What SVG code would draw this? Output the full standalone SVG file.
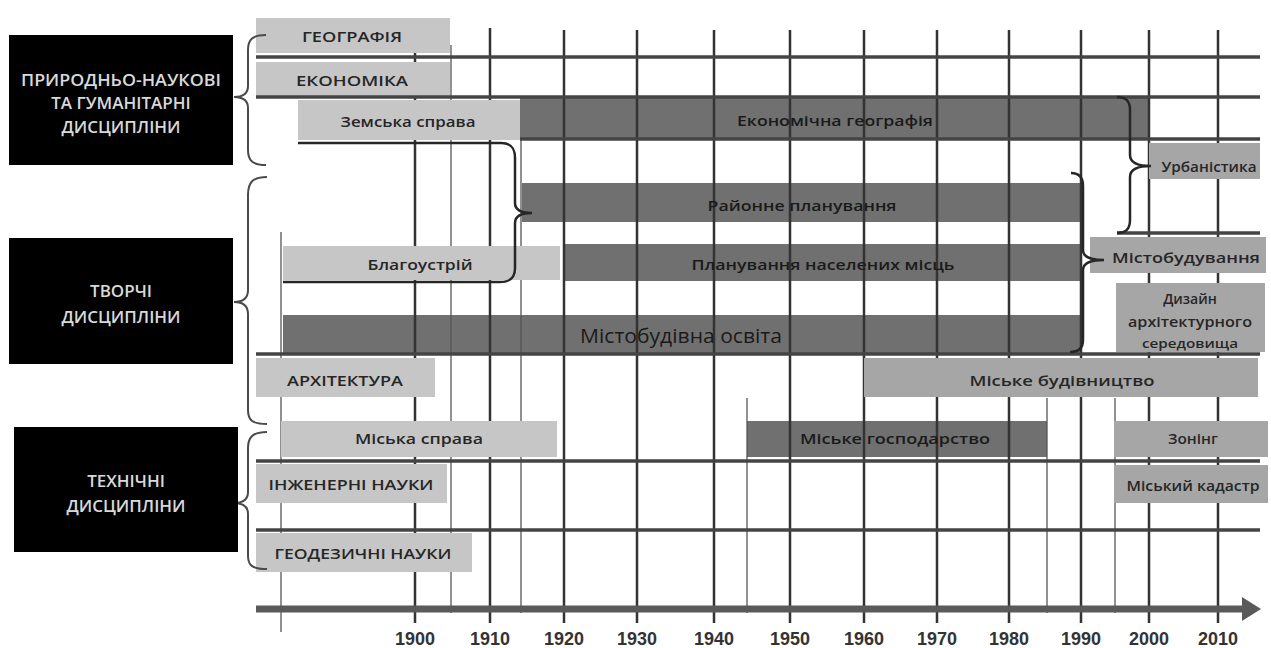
<svg xmlns="http://www.w3.org/2000/svg" width="1271" height="648" viewBox="0 0 1271 648">
<style>
.bg{fill:#ffffff}
.cat rect{fill:#000000}
.cat text{fill:#d9d9d9;font-family:"Open Sans","Noto Sans",sans-serif;font-weight:600;font-size:17px;text-anchor:middle;dominant-baseline:central}
.lt rect{fill:#c6c6c6}
.md rect{fill:#a6a6a6}
.dk rect{fill:#707070}
.bar text{fill:#262626;font-family:"Open Sans","Noto Sans",sans-serif;font-weight:600;font-size:15px;text-anchor:middle;dominant-baseline:central}
.dk text{fill:#1a1a1a}
.vd{stroke:#333333;stroke-width:2.5}
.vt{stroke:#555555;stroke-width:1.3}
.hl{stroke:#444444;stroke-width:3.5}
.br{fill:none;stroke:#4a4a4a;stroke-width:2}
.brd{fill:none;stroke:#262626;stroke-width:2.5}
.yr{fill:#333333;font-family:"Liberation Sans",Arial,sans-serif;font-weight:bold;font-size:19px;text-anchor:middle}
</style>
<rect class="bg" x="0" y="0" width="1271" height="648"/>

<!-- dark bars (grid lines visible across them) -->
<g id="ekon-geografiya" class="bar dk"><rect x="520" y="97" width="629" height="42"/></g>
<g id="rayonne-planuvannya" class="bar dk"><rect x="522" y="183" width="559" height="39"/></g>
<g id="planuvannya-naselenykh" class="bar dk"><rect x="563" y="244" width="518" height="37"/></g>
<g id="mistobud-osvita" class="bar dk"><rect x="283" y="315" width="798" height="38"/></g>
<g id="miske-hospodarstvo" class="bar dk"><rect x="747" y="421" width="300" height="36"/></g>

<g id="connectors">
  <g id="grid-decades">
    <line class="vd" x1="415" y1="30" x2="415" y2="623"/>
    <line class="vd" x1="490" y1="28" x2="490" y2="623"/>
    <line class="vd" x1="564" y1="30" x2="564" y2="623"/>
    <line class="vd" x1="637" y1="30" x2="637" y2="623"/>
    <line class="vd" x1="714" y1="30" x2="714" y2="623"/>
    <line class="vd" x1="790" y1="30" x2="790" y2="623"/>
    <line class="vd" x1="864" y1="30" x2="864" y2="623"/>
    <line class="vd" x1="937" y1="30" x2="937" y2="623"/>
    <line class="vd" x1="1009" y1="30" x2="1009" y2="623"/>
    <line class="vd" x1="1081" y1="30" x2="1081" y2="623"/>
    <line class="vd" x1="1149" y1="30" x2="1149" y2="623"/>
    <line class="vd" x1="1218" y1="30" x2="1218" y2="623"/>
  </g>
  <g id="grid-thin">
    <line class="vt" x1="281" y1="232" x2="281" y2="632"/>
    <line class="vt" x1="451" y1="45" x2="451" y2="613"/>
    <line class="vt" x1="521" y1="139" x2="521" y2="613"/>
    <line class="vt" x1="747" y1="398" x2="747" y2="613"/>
    <line class="vt" x1="1047" y1="398" x2="1047" y2="613"/>
    <line class="vt" x1="1115" y1="398" x2="1115" y2="613"/>
  </g>
</g>

<!-- light and medium bars (opaque over grid) -->
<g id="geografiya" class="bar lt"><rect x="256" y="18" width="194" height="35"/><text x="352" y="36" textLength="100" lengthAdjust="spacingAndGlyphs">ГЕОГРАФІЯ</text></g>
<g id="ekonomika" class="bar lt"><rect x="256" y="62" width="194" height="35"/><text x="352" y="80" textLength="112" lengthAdjust="spacingAndGlyphs">ЕКОНОМІКА</text></g>
<g id="zemska-sprava" class="bar lt"><rect x="298" y="100" width="222" height="40"/><text x="408" y="121" textLength="135" lengthAdjust="spacingAndGlyphs">Земська справа</text></g>
<g id="blahoustriy" class="bar lt"><rect x="283" y="246" width="277" height="34"/><text x="420" y="264" textLength="105" lengthAdjust="spacingAndGlyphs">Благоустрій</text></g>
<g id="arkhitektura" class="bar lt"><rect x="256" y="358" width="179" height="39"/><text x="345" y="380" textLength="116" lengthAdjust="spacingAndGlyphs">АРХІТЕКТУРА</text></g>
<g id="miska-sprava" class="bar lt"><rect x="281" y="421" width="276" height="36"/><text x="419" y="438" textLength="128" lengthAdjust="spacingAndGlyphs">Міська справа</text></g>
<g id="inzhenerni-nauky" class="bar lt"><rect x="256" y="464" width="191" height="39"/><text x="351" y="484" textLength="165" lengthAdjust="spacingAndGlyphs">ІНЖЕНЕРНІ НАУКИ</text></g>
<g id="heodezychni-nauky" class="bar lt"><rect x="256" y="533" width="216" height="39"/><text x="363" y="553" textLength="177" lengthAdjust="spacingAndGlyphs">ГЕОДЕЗИЧНІ НАУКИ</text></g>

<g id="urbanistyka" class="bar md"><rect x="1149" y="143" width="111" height="36"/><text x="1209" y="166" textLength="95" lengthAdjust="spacingAndGlyphs" style="font-size:14px">Урбаністика</text></g>
<g id="mistobuduvannya" class="bar md"><rect x="1090" y="237" width="176" height="36"/><text x="1186" y="257" textLength="148" lengthAdjust="spacingAndGlyphs">Містобудування</text></g>
<g id="dyzayn" class="bar md"><rect x="1116" y="283" width="149" height="69"/>
  <text x="1190" y="298" style="font-size:14px">Дизайн</text>
  <text x="1190" y="321" textLength="124" lengthAdjust="spacingAndGlyphs" style="font-size:14px">архітектурного</text>
  <text x="1190" y="343" textLength="96" lengthAdjust="spacingAndGlyphs" style="font-size:12px">середовища</text></g>
<g id="miske-budivnytstvo" class="bar md"><rect x="864" y="358" width="394" height="39"/><text x="1062" y="380" textLength="185" lengthAdjust="spacingAndGlyphs">Міське будівництво</text></g>
<g id="zoning" class="bar md"><rect x="1114" y="421" width="154" height="36"/><text x="1193" y="438" textLength="50" lengthAdjust="spacingAndGlyphs" style="font-size:14px">Зонінг</text></g>
<g id="miskyi-kadastr" class="bar md"><rect x="1114" y="465" width="154" height="38"/><text x="1193" y="485" textLength="133" lengthAdjust="spacingAndGlyphs" style="font-size:14px">Міський кадастр</text></g>

<!-- texts of dark bars (drawn over grid) -->
<g id="dark-bar-labels" class="bar dk">
  <text x="835" y="120" textLength="196" lengthAdjust="spacingAndGlyphs">Економічна географія</text>
  <text x="802" y="205" textLength="189" lengthAdjust="spacingAndGlyphs">Районне планування</text>
  <text x="823" y="264" textLength="263" lengthAdjust="spacingAndGlyphs">Планування населених місць</text>
  <text x="681" y="335" textLength="202" lengthAdjust="spacingAndGlyphs" style="font-size:20px;font-weight:500">Містобудівна освіта</text>
  <text x="895" y="438" textLength="190" lengthAdjust="spacingAndGlyphs">Міське господарство</text>
</g>

<g id="connectors-2">
  <line class="hl" x1="256" y1="57" x2="1260" y2="57"/>
  <line class="hl" x1="256" y1="97" x2="1260" y2="97"/>
  <line class="hl" x1="520" y1="139" x2="1260" y2="139"/>
  <line class="hl" x1="1117" y1="233" x2="1260" y2="233"/>
  <line class="hl" x1="256" y1="354" x2="1260" y2="354"/>
  <line class="hl" x1="256" y1="461" x2="1260" y2="461"/>
  <line class="hl" x1="256" y1="530" x2="1260" y2="530"/>
  <path class="br" d="M266 35 C252 35 248 40 248 50 L248 86 C248 93 244 97 234 97 C244 97 248 101 248 108 L248 150 C248 160 252 165 266 165"/>
  <path class="br" d="M267 177 C252 177 248 183 248 195 L248 290 C248 298 244 302 234 302 C244 302 248 306 248 314 L248 410 C248 420 252 424 267 424"/>
  <path class="br" d="M267 432 C252 432 248 438 248 448 L248 492 C248 499 244 503 234 503 C244 503 248 507 248 514 L248 556 C248 565 252 569 267 569"/>
  <path class="brd" d="M298 143 L501 143 C511 143 515 148 515 158 L515 203 C515 209 520 213 532 213 C520 213 515 217 515 223 L515 268 C515 278 510 282 500 282 L283 282"/>
  <path class="brd" d="M1117 97 C1126 97 1130 101 1130 110 L1130 155 C1130 162 1136 166 1151 166 C1136 166 1130 170 1130 177 L1130 220 C1130 229 1126 233 1117 233"/>
  <path class="brd" d="M1071 173 C1079 173 1083 177 1083 186 L1083 250 C1083 256 1088 260 1104 260 C1088 260 1083 264 1083 270 L1083 340 C1083 348 1079 352 1070 352"/>
  <line x1="256" y1="609" x2="1244" y2="609" stroke="#5a5a5a" stroke-width="7"/>
  <polygon points="1242,597 1261,609 1242,621" fill="#5a5a5a"/>
</g>

<!-- category boxes -->
<g id="pryrodno-naukovi" class="cat"><rect x="9" y="35" width="224" height="130"/>
  <text x="121" y="79" textLength="200" lengthAdjust="spacingAndGlyphs">ПРИРОДНЬО-НАУКОВІ</text>
  <text x="121" y="102">ТА ГУМАНІТАРНІ</text>
  <text x="121" y="126">ДИСЦИПЛІНИ</text></g>
<g id="tvorchi" class="cat"><rect x="9" y="238" width="224" height="126"/>
  <text x="121" y="290">ТВОРЧІ</text>
  <text x="121" y="316">ДИСЦИПЛІНИ</text></g>
<g id="tekhnichni" class="cat"><rect x="14" y="427" width="224" height="125"/>
  <text x="126" y="480">ТЕХНІЧНІ</text>
  <text x="126" y="505">ДИСЦИПЛІНИ</text></g>

<!-- year labels -->
<g id="years">
  <text class="yr" x="415" y="645" textLength="40" lengthAdjust="spacingAndGlyphs">1900</text>
  <text class="yr" x="490" y="645" textLength="40" lengthAdjust="spacingAndGlyphs">1910</text>
  <text class="yr" x="564" y="645" textLength="40" lengthAdjust="spacingAndGlyphs">1920</text>
  <text class="yr" x="637" y="645" textLength="40" lengthAdjust="spacingAndGlyphs">1930</text>
  <text class="yr" x="714" y="645" textLength="40" lengthAdjust="spacingAndGlyphs">1940</text>
  <text class="yr" x="790" y="645" textLength="40" lengthAdjust="spacingAndGlyphs">1950</text>
  <text class="yr" x="864" y="645" textLength="40" lengthAdjust="spacingAndGlyphs">1960</text>
  <text class="yr" x="937" y="645" textLength="40" lengthAdjust="spacingAndGlyphs">1970</text>
  <text class="yr" x="1009" y="645" textLength="40" lengthAdjust="spacingAndGlyphs">1980</text>
  <text class="yr" x="1081" y="645" textLength="40" lengthAdjust="spacingAndGlyphs">1990</text>
  <text class="yr" x="1149" y="645" textLength="40" lengthAdjust="spacingAndGlyphs">2000</text>
  <text class="yr" x="1218" y="645" textLength="40" lengthAdjust="spacingAndGlyphs">2010</text>
</g>
</svg>
